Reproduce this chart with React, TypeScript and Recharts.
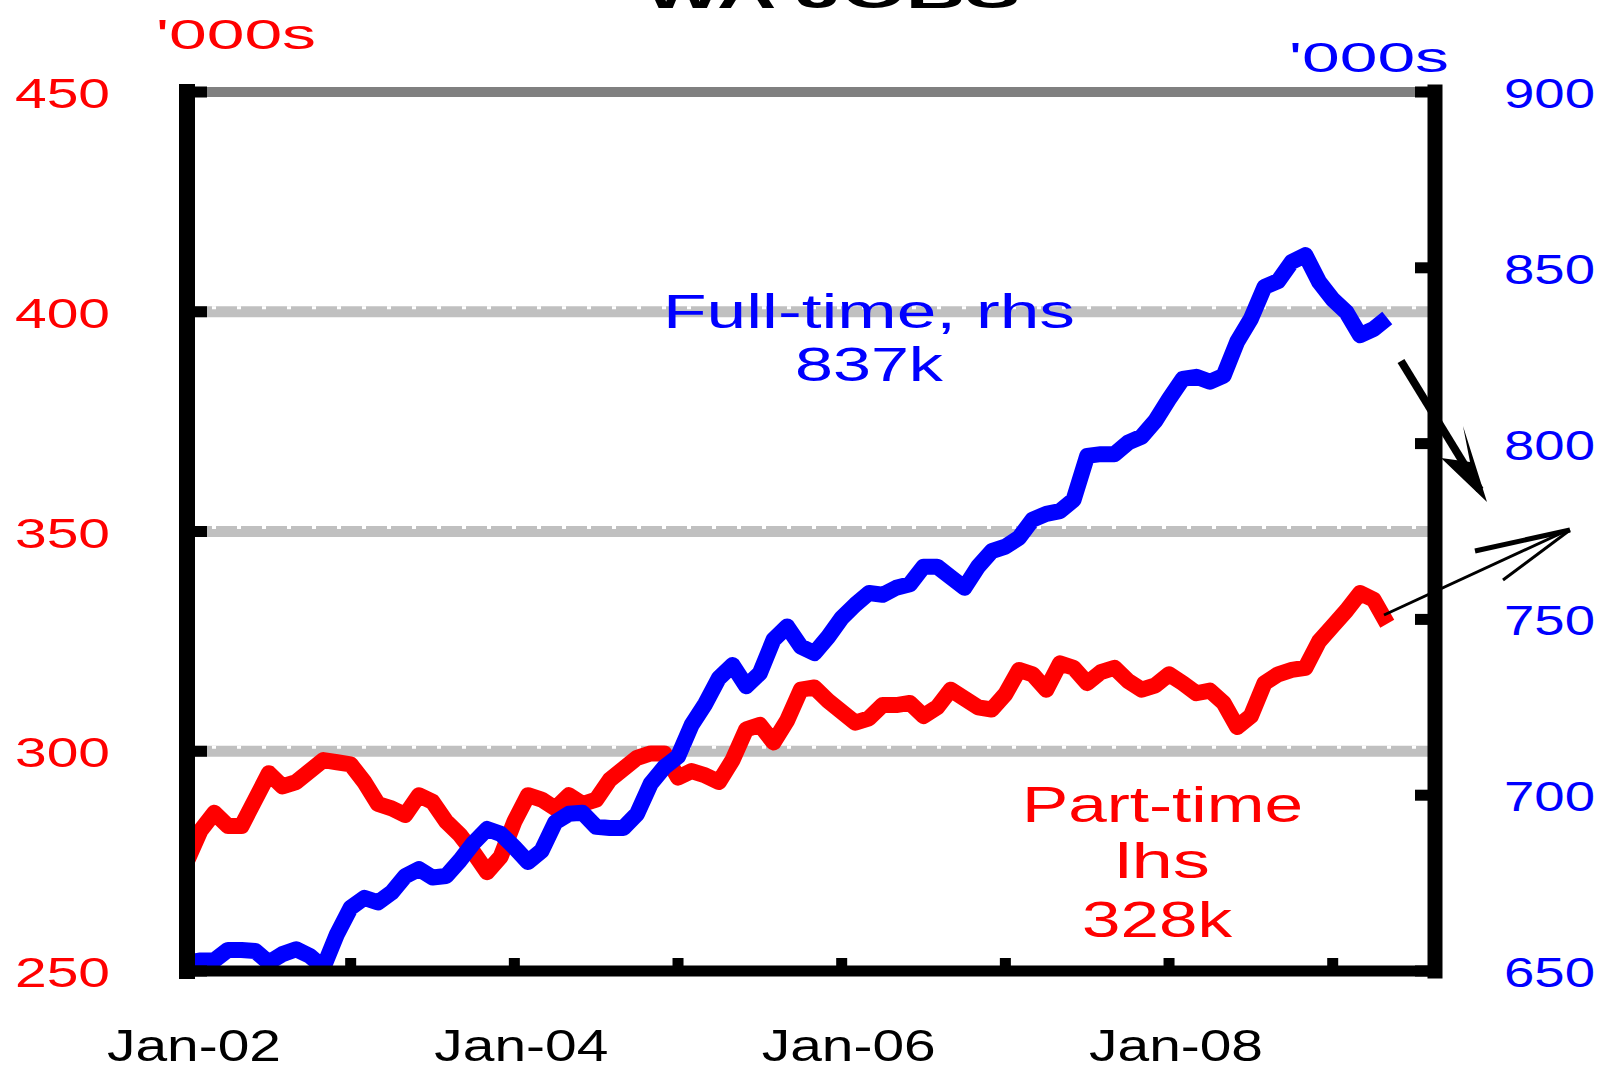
import { LineChart, Line, XAxis, YAxis, ReferenceLine } from 'recharts'

// ── Data (monthly, Jan-02 .. May-09) ─────────────────────────────────────────

const START_YEAR = 2002
const MONTH_COUNT = 89 // Jan-02 .. May-09

// Part-time employment, '000s (lhs)
const PART_TIME = [
  275, 282, 286, 283, 283, 289, 295, 292, 293, 295.5, 298, 297.5,
  297, 293, 288, 287, 285.5, 290, 288.5, 284, 281, 277, 272.5, 276,
  284, 290, 289, 287, 290, 288, 289, 293.5, 296, 298.5, 299.5, 299.5,
  294, 295.5, 294.5, 293, 298, 305, 306, 302, 307, 314, 314.5, 311.5,
  309, 306.5, 307.5, 310.5, 310.5, 311, 308, 310, 314, 312, 310, 309.5,
  313, 318.5, 317.5, 314, 320, 319, 315.5, 318, 319, 316, 314, 315,
  317.5, 315.5, 313.2, 313.8, 311, 305.5, 308, 315.5, 317.5, 318.5, 319, 325,
  328.5, 332, 336, 334.5, 329,
]

// Full-time employment, '000s (rhs)
const FULL_TIME = [
  652.4, 653, 653, 656, 656, 655.7, 652.4, 654.8, 656.2, 654.3, 651, 660.5,
  668, 670.8, 669.5, 672.3, 677, 679, 676.6, 677, 681.4, 686.4, 690.4, 689,
  685.2, 681, 684.2, 692.3, 694.7, 695, 691, 690.7, 690.7, 694.7, 703.3, 708,
  711, 720, 726, 733.3, 737, 731, 734.7, 744.2, 748, 742.3, 740.4, 745,
  750.4, 754.2, 757.5, 757, 759, 760, 765, 765, 762, 759, 765, 769.4,
  770.7, 773.2, 778.4, 780, 780.8, 784, 796.5, 797, 797, 800.3, 802, 806.5,
  812.7, 818.4, 819, 817.6, 819.3, 829, 835.5, 844.6, 846.2, 851.7, 853.6, 846,
  841, 837.4, 830.8, 832.6, 835.7,
]

const LEFT_TICKS = [250, 300, 350, 400, 450]
const RIGHT_TICKS = [650, 700, 750, 800, 850, 900]
const GRID_VALUES = [300, 350, 400]
const X_TICKS = [0, 12, 24, 36, 48, 60, 72, 84]
const X_TICK_LABELS = ['Jan-02', '', 'Jan-04', '', 'Jan-06', '', 'Jan-08', '']

const data = PART_TIME.slice(0, MONTH_COUNT).map((pt, i) => ({
  m: i,
  label: `${START_YEAR + Math.floor(i / 12)}-${(i % 12) + 1}`,
  partTime: pt,
  fullTime: FULL_TIME[i],
}))

// ── Styles ───────────────────────────────────────────────────────────────────

const FONT = '"Liberation Sans", Arial, sans-serif'
const RED = '#FF0000'
const BLUE = '#0000FF'

// ── Custom ticks (tick marks point inward, labels stretched wide) ────────────

function LeftTick({ x, y, payload }: any) {
  return (
    <g>
      <rect x={x} y={y - 5.5} width={20} height={11} fill="#000" />
      <text x={110} y={y + 16} textAnchor="end" fill={RED} fontSize={42}
        fontFamily={FONT} textLength={95} lengthAdjust="spacingAndGlyphs">
        {payload.value}
      </text>
    </g>
  )
}

function RightTick({ x, y, payload }: any) {
  return (
    <g>
      <rect x={x - 20} y={y - 5.5} width={20} height={11} fill="#000" />
      <text x={x + 69} y={y + 16} textAnchor="start" fill={BLUE} fontSize={42}
        fontFamily={FONT} textLength={91} lengthAdjust="spacingAndGlyphs">
        {payload.value}
      </text>
    </g>
  )
}

function BottomTick({ x, y, payload }: any) {
  const label = X_TICK_LABELS[X_TICKS.indexOf(payload.value)]
  return (
    <g>
      <rect x={x - 5.5} y={y - 13} width={11} height={13} fill="#000" />
      {label && (
        <text x={x + 7} y={y + 90} textAnchor="middle" fill="#000" fontSize={44}
          fontFamily={FONT} textLength={174} lengthAdjust="spacingAndGlyphs">
          {label}
        </text>
      )}
    </g>
  )
}

// grid line: thick light-grey with a notched top edge
function GridShape(p: any) {
  return (
    <g>
      <line x1={p.x1} y1={p.y1} x2={p.x2} y2={p.y2} stroke="#C0C0C0" strokeWidth={11} />
      <line x1={p.x1} y1={p.y1 - 4} x2={p.x2} y2={p.y2 - 4} stroke="#FFFFFF"
        strokeWidth={3} strokeDasharray="4 21" />
    </g>
  )
}

// ── Chart ────────────────────────────────────────────────────────────────────

export default function App() {
  return (
    <div style={{ position: 'absolute', left: 0, top: 0, width: 1608, height: 1073, background: '#fff' }}>
      <LineChart width={1608} height={1073} data={data}
        margin={{ top: 92, right: 0, bottom: 0, left: 0 }}>
        <XAxis dataKey="m" type="number" domain={[0, 91.5]} ticks={X_TICKS}
          height={102} tickSize={0} tickMargin={0} tick={BottomTick}
          axisLine={{ stroke: '#000', strokeWidth: 11, strokeLinecap: 'square' }} />
        <YAxis yAxisId="left" orientation="left" domain={[250, 450]} ticks={LEFT_TICKS}
          width={187} tickSize={0} tickMargin={0} tick={LeftTick}
          axisLine={{ stroke: '#000', strokeWidth: 16, strokeLinecap: 'square' }} />
        <YAxis yAxisId="right" orientation="right" domain={[650, 900]} ticks={RIGHT_TICKS}
          width={173} tickSize={0} tickMargin={0} tick={RightTick}
          axisLine={{ stroke: '#000', strokeWidth: 15, strokeLinecap: 'square' }} />

        {GRID_VALUES.map(v => (
          <ReferenceLine key={v} yAxisId="left" y={v} shape={GridShape} />
        ))}
        <ReferenceLine yAxisId="left" y={450} stroke="#808080" strokeWidth={10} />

        <Line yAxisId="left" dataKey="partTime" type="linear" stroke={RED}
          strokeWidth={16} strokeLinejoin="round" dot={false} activeDot={false}
          isAnimationActive={false} />
        <Line yAxisId="right" dataKey="fullTime" type="linear" stroke={BLUE}
          strokeWidth={16} strokeLinejoin="round" dot={false} activeDot={false}
          isAnimationActive={false} />
      </LineChart>

      {/* titles, unit labels, series labels and arrows */}
      <svg width={1608} height={1073} style={{ position: 'absolute', left: 0, top: 0, pointerEvents: 'none' }}>
        <text x={832} y={8} textAnchor="middle" fontSize={46} fontWeight="bold" fontFamily={FONT}
          fill="#000" textLength={376} lengthAdjust="spacingAndGlyphs">WA JOBS</text>

        <text x={156} y={49} fontSize={42} fontFamily={FONT} fill={RED}
          textLength={160} lengthAdjust="spacingAndGlyphs">'000s</text>
        <text x={1289} y={72} fontSize={42} fontFamily={FONT} fill={BLUE}
          textLength={160} lengthAdjust="spacingAndGlyphs">'000s</text>

        <text x={663} y={328} fontSize={48} fontFamily={FONT} fill={BLUE}
          textLength={412} lengthAdjust="spacingAndGlyphs">Full-time, rhs</text>
        <text x={795} y={381} fontSize={48} fontFamily={FONT} fill={BLUE}
          textLength={148} lengthAdjust="spacingAndGlyphs">837k</text>

        <text x={1022} y={822} fontSize={50} fontFamily={FONT} fill={RED}
          textLength={281} lengthAdjust="spacingAndGlyphs">Part-time</text>
        <text x={1115} y={878} fontSize={50} fontFamily={FONT} fill={RED}
          textLength={95} lengthAdjust="spacingAndGlyphs">lhs</text>
        <text x={1082} y={937} fontSize={50} fontFamily={FONT} fill={RED}
          textLength={150} lengthAdjust="spacingAndGlyphs">328k</text>

        {/* thick arrow pointing down to full-time */}
        <line x1={1401} y1={361} x2={1480} y2={490} stroke="#000" strokeWidth={8} />
        <polygon points="1487,502 1441,458 1470,462 1463,426" fill="#000" />

        {/* thin arrow pointing up-right from part-time */}
        <line x1={1384} y1={615} x2={1566} y2={531} stroke="#000" strokeWidth={3} />
        <line x1={1570} y1={530} x2={1475} y2={551} stroke="#000" strokeWidth={5} />
        <line x1={1570} y1={530} x2={1503} y2={580} stroke="#000" strokeWidth={3} />
      </svg>
    </div>
  )
}
